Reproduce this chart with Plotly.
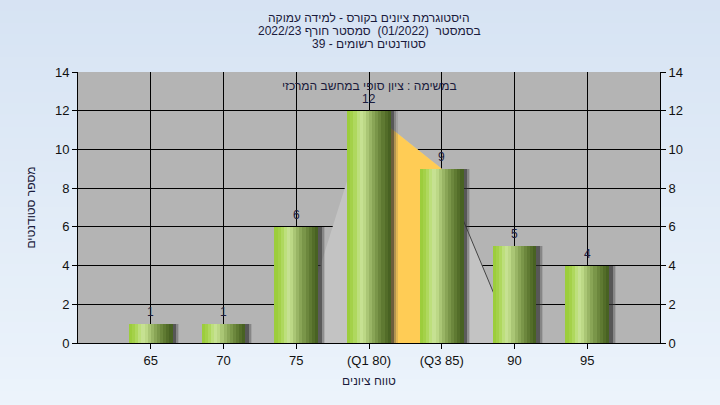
import plotly.graph_objects as go

# ---- data ----
categories = ["65", "70", "75", "(Q1 80)", "(Q3 85)", "90", "95"]
counts = [1, 1, 6, 12, 9, 5, 4]
q1_index = 3
q3_index = 4
title_lines = ["היסטוגרמת ציונים בקורס - למידה עמוקה",
               "בסמסטר  (01/2022)  סמסטר חורף 2022/23",
               "סטודנטים רשומים - 39"]
subtitle = "במשימה : ציון סופי במחשב המרכזי"
x_title = "טווח ציונים"
y_title = "מספר סטודנטים"
y_ticks = [0, 2, 4, 6, 8, 10, 12, 14]

xs = list(range(len(categories)))
FONT = "Liberation Sans, Arial, sans-serif"
TXT = "#1b1b3c"

fig = go.Figure()

def path_from(points):
    return "M " + " L ".join("%s,%s" % (px, py) for px, py in points) + " Z"

shapes = []
# background gradient stripes
N = 40
top = (214, 227, 243)
bot = (238, 245, 252)
for k in range(N):
    t = k / (N - 1)
    col = tuple(round(top[j] + (bot[j] - top[j]) * t) for j in range(3))
    shapes.append(dict(type="rect", xref="paper", yref="paper", layer="below",
                       x0=-0.2, x1=1.2, y0=1.3 - (k + 1) * 1.7 / N, y1=1.3 - k * 1.7 / N + 0.01,
                       fillcolor="rgb(%d,%d,%d)" % col, line=dict(width=0)))
shapes.append(dict(type="rect", xref="x domain", yref="y domain", layer="below",
                   x0=0, x1=1, y0=0, y1=1, fillcolor="#b4b4b4", line=dict(width=0)))

# light-gray frequency polygon from category before Q1 to category after Q3
lo, hi = q1_index - 1, q3_index + 1
poly = [(xs[lo], 0), (xs[q1_index], counts[q1_index]), (xs[q3_index], counts[q3_index]), (xs[hi], 0)]
shapes.append(dict(type="path", xref="x", yref="y", layer="between", path=path_from(poly),
                   fillcolor="#c3c3c3", line=dict(width=0)))
shapes.append(dict(type="line", xref="x", yref="y", layer="between",
                   x0=xs[q3_index], y0=counts[q3_index], x1=xs[hi], y1=0,
                   line=dict(color="#444444", width=1)))
iqr = [(xs[q1_index], 0), (xs[q1_index], counts[q1_index]), (xs[q3_index], counts[q3_index]), (xs[q3_index], 0)]
shapes.append(dict(type="path", xref="x", yref="y", layer="between", path=path_from(iqr),
                   fillcolor="#ffcc55", line=dict(width=0)))

W = 0.6
# soft shadows
for sh, col in [(0.095, "rgba(90,90,90,0.18)"), (0.075, "rgba(70,70,70,0.3)"), (0.05, "rgba(40,40,40,0.5)")]:
    fig.add_trace(go.Bar(x=xs, y=counts, width=W, offset=-W / 2 + sh,
                         marker=dict(color=col, line=dict(width=0)),
                         hoverinfo="skip", showlegend=False))

# gradient cylinder bars (each slice runs to the right edge; later slices cover earlier ones)
grad = ["#9ccd3c", "#a4d149", "#afd85e", "#bddf7c", "#c6e192", "#bcd886", "#aac675",
        "#99b565", "#89a556", "#7a9649", "#6c873d", "#5f7a32", "#536d29", "#486222"]
n = len(grad)
for i, c in enumerate(grad):
    fig.add_trace(go.Bar(x=xs, y=counts, width=W - i * W / n, offset=-W / 2 + i * W / n,
                         marker=dict(color=c, line=dict(width=0)),
                         hoverinfo="skip", showlegend=False))

# right axis helper
fig.add_trace(go.Scatter(x=[xs[0]], y=[0], yaxis="y2", mode="markers",
                         marker=dict(opacity=0), hoverinfo="skip", showlegend=False))

annotations = []
# value labels
for xv, v in zip(xs, counts):
    annotations.append(dict(x=xv, y=v, xref="x", yref="y", text=str(v), showarrow=False,
                            yanchor="bottom", yshift=3,
                            font=dict(family=FONT, size=12, color=TXT)))
for i, line in enumerate(title_lines):
    annotations.append(dict(text=line, xref="paper", yref="paper", x=0.5, y=1.0,
                            yshift=54 - i * 13, xanchor="center", yanchor="middle",
                            showarrow=False, font=dict(family=FONT, size=12, color=TXT)))
annotations.append(dict(text=subtitle, xref="paper", yref="paper", x=0.5, y=1.0, yshift=-14,
                        xanchor="center", yanchor="middle", showarrow=False,
                        font=dict(family=FONT, size=12, color=TXT)))

axis_font = dict(family=FONT, size=13, color="#111111")
fig.update_layout(
    width=720, height=405,
    margin=dict(l=78, r=60, t=72, b=62),
    paper_bgcolor="#e4eef9",
    plot_bgcolor="rgba(0,0,0,0)",
    barmode="overlay",
    bargap=0,
    shapes=shapes,
    annotations=annotations,
    xaxis=dict(range=[-1, len(categories)], tickmode="array", tickvals=xs,
               ticktext=categories, showgrid=True, gridcolor="#000000", gridwidth=1,
               ticks="outside", ticklen=5, tickcolor="#000000",
               showline=True, linecolor="#000000", linewidth=1, zeroline=False,
               tickfont=axis_font,
               title=dict(text=x_title, font=dict(family=FONT, size=12, color=TXT), standoff=10)),
    yaxis=dict(range=[0, 14], tickmode="array", tickvals=y_ticks,
               showgrid=True, gridcolor="#000000", gridwidth=1, zeroline=False,
               ticks="outside", ticklen=5, tickcolor="#000000",
               showline=True, linecolor="#000000", linewidth=1,
               tickfont=axis_font,
               title=dict(text=y_title, font=dict(family=FONT, size=12, color=TXT), standoff=16)),
    yaxis2=dict(range=[0, 14], tickmode="array", tickvals=y_ticks, overlaying="y",
                side="right", showgrid=False, zeroline=False,
                ticks="outside", ticklen=5, tickcolor="#000000",
                showline=True, linecolor="#000000", linewidth=1, tickfont=axis_font),
)

fig.write_html("out.html", config={"displayModeBar": False},
               post_script="document.body.style.margin='0';")
